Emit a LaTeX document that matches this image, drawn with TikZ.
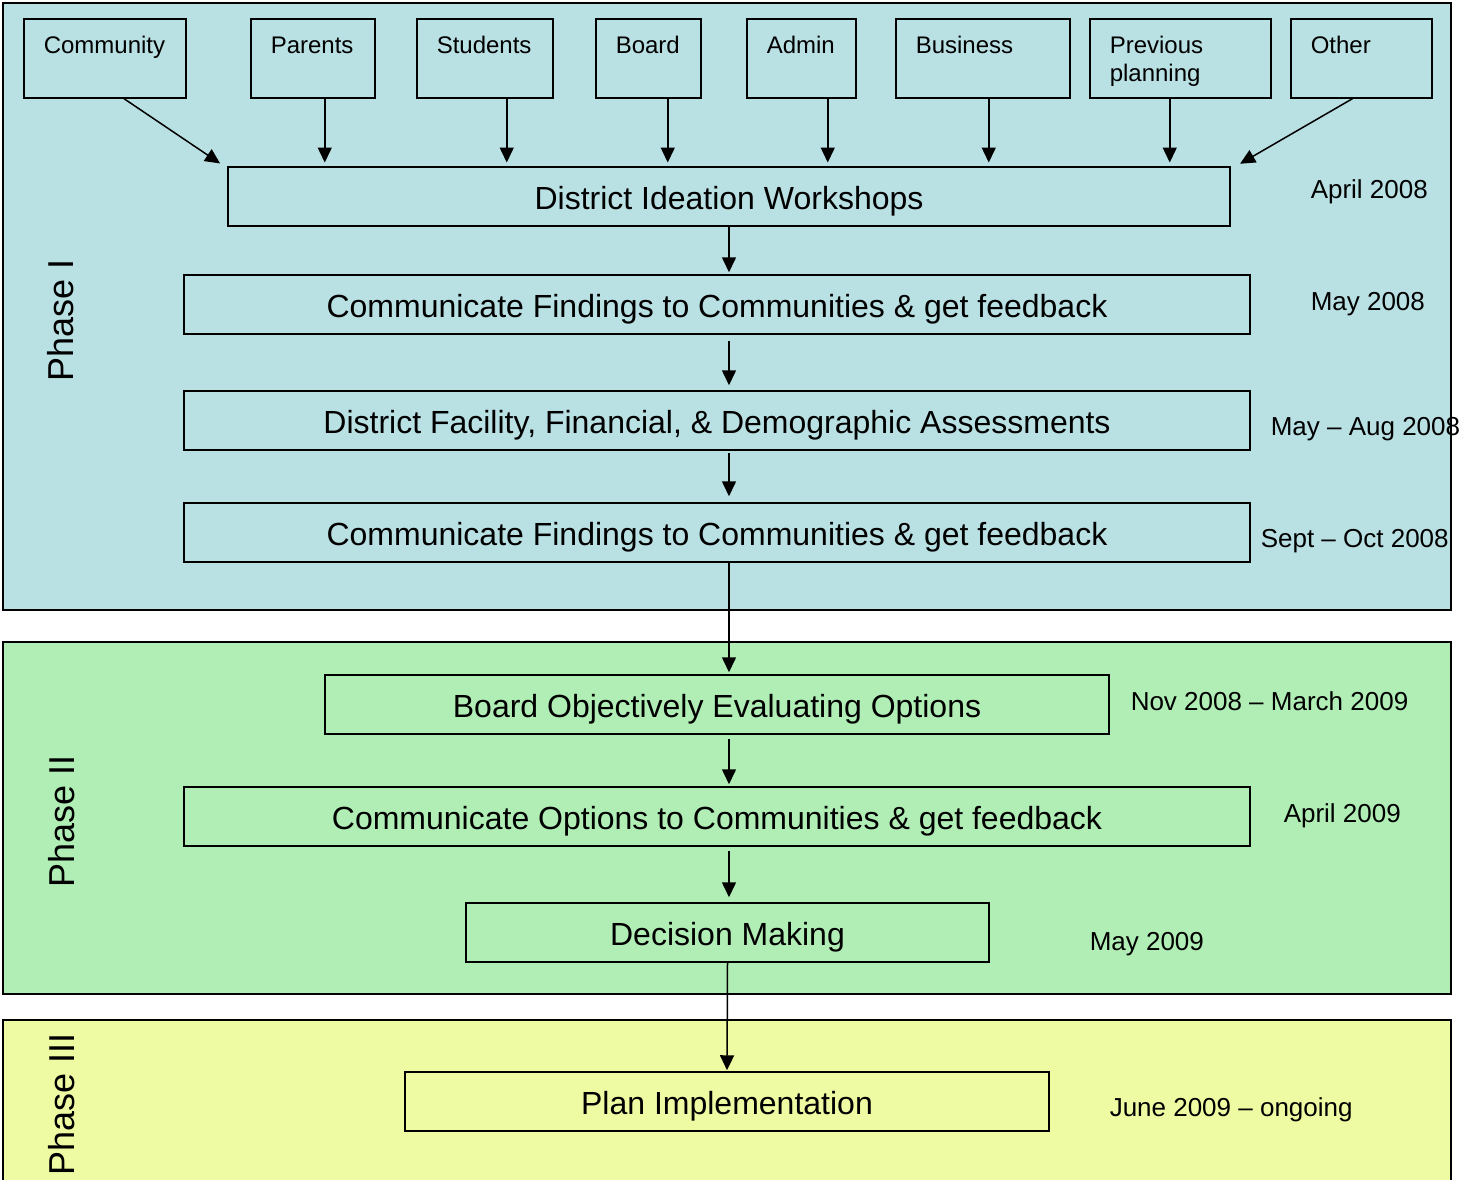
\documentclass[tikz,border=0pt]{standalone}
\usepackage{fontspec}
\setmainfont{Liberation Sans}
\usetikzlibrary{arrows.meta}
\definecolor{phaseone}{HTML}{B9E0E3}
\definecolor{phasetwo}{HTML}{B0EEB5}
\definecolor{phasethree}{HTML}{EEFBA2}

\begin{document}
\begin{tikzpicture}[x=1pt,y=-1pt,>={Triangle[length=15pt,width=14pt]},line width=1.5pt,
  src/.style={draw,anchor=north west,align=left,text width=#1,inner xsep=20pt,inner ysep=0pt,
    text height=35pt,text depth=44pt,font=\fontsize{24}{27.5}\selectfont},
  stage/.style={draw,minimum width=#1,minimum height=59pt,inner sep=0pt,
    text height=29pt,text depth=3pt,font=\fontsize{32}{36}\selectfont},
  date/.style={anchor=base west,inner sep=0pt,font=\fontsize{26}{30}\selectfont},
  phase/.style={rotate=90,font=\fontsize{36}{40}\selectfont}]
  \useasboundingbox (0,0) rectangle (1461,1179);

  % phase panels
  \draw[fill=phaseone] (3,3) rectangle (1451,610);
  \draw[fill=phasetwo] (3,642) rectangle (1451,994);
  \draw[fill=phasethree] (3,1020) rectangle (1451,1195);

  \node[phase] (p1) at (61,320) {Phase I};
  \node[phase] (p2) at (62,821) {Phase II};
  \node[phase] (p3) at (62,1104) {Phase III};

  % inputs
  \node[src=122pt] (com) at (23,18) {Community};
  \node[src=84pt] (par) at (250,18) {Parents};
  \node[src=96pt] (stu) at (416,18) {Students};
  \node[src=65pt] (brd) at (595,18) {Board};
  \node[src=69pt] (adm) at (746,18) {Admin};
  \node[src=134pt] (bus) at (895,18) {Business};
  \node[src=141pt] (prev) at (1089,18) {Previous\\planning};
  \node[src=101pt] (oth) at (1290,18) {Other};

  % stages
  \node[stage=1002pt] (ws) at (729,196.5) {District Ideation Workshops};
  \node[stage=1066pt] (c1) at (717,304.5) {Communicate Findings to Communities \& get feedback};
  \node[stage=1066pt] (as) at (717,420.5) {District Facility, Financial, \& Demographic Assessments};
  \node[stage=1066pt] (c2) at (717,532.5) {Communicate Findings to Communities \& get feedback};
  \node[stage=784pt] (ev) at (717,704.5) {Board Objectively Evaluating Options};
  \node[stage=1066pt] (op) at (717,816.5) {Communicate Options to Communities \& get feedback};
  \node[stage=523pt] (dec) at (727.5,932.5) {Decision Making};
  \node[stage=644pt] (impl) at (727,1101.5) {Plan Implementation};

  % dates
  \node[date] (d1) at (1310,198) {April 2008};
  \node[date] (d2) at (1310,310) {May 2008};
  \node[date] (d3) at (1270,435) {May -- Aug 2008};
  \node[date] (d4) at (1260,547) {Sept -- Oct 2008};
  \node[date] (d5) at (1130,710) {Nov 2008 -- March 2009};
  \node[date] (d6) at (1283,822) {April 2009};
  \node[date] (d7) at (1089,950) {May 2009};
  \node[date] (d8) at (1109,1116) {June 2009 -- ongoing};

  % inputs into workshops
  \draw[->,shorten >=5pt] ([xshift=19pt]com.south) -- ([xshift=-3pt]ws.north west);
  \draw[->] ([xshift=12pt]par.south) -- ++(0,64);
  \draw[->] ([xshift=22pt]stu.south) -- ++(0,64);
  \draw[->] ([xshift=19.5pt]brd.south) -- ++(0,64);
  \draw[->] ([xshift=26.5pt]adm.south) -- ++(0,64);
  \draw[->] ([xshift=6pt]bus.south) -- ++(0,64);
  \draw[->] ([xshift=-10.5pt]prev.south) -- ++(0,64);
  \draw[->,shorten >=5pt] ([xshift=-8.5pt]oth.south) -- ([xshift=5pt]ws.north east);

  % main flow
  \draw[->,shorten >=2pt] (ws.south) -- (ws.south |- c1.north);
  \draw[->,shorten <=6pt,shorten >=5pt] (c1.south -| ws.south) -- (as.north -| ws.south);
  \draw[->,shorten <=2pt,shorten >=6pt] (as.south -| ws.south) -- (c2.north -| ws.south);
  \draw[->,shorten >=2pt] (c2.south -| ws.south) -- (ev.north -| ws.south);
  \draw[->,shorten <=4pt,shorten >=2pt] (ev.south -| ws.south) -- (op.north -| ws.south);
  \draw[->,shorten <=4pt,shorten >=5pt] (op.south -| ws.south) -- (dec.north -| ws.south);
  \draw[->,shorten >=1pt] (dec.south) -- (impl.north);
\end{tikzpicture}
\end{document}
